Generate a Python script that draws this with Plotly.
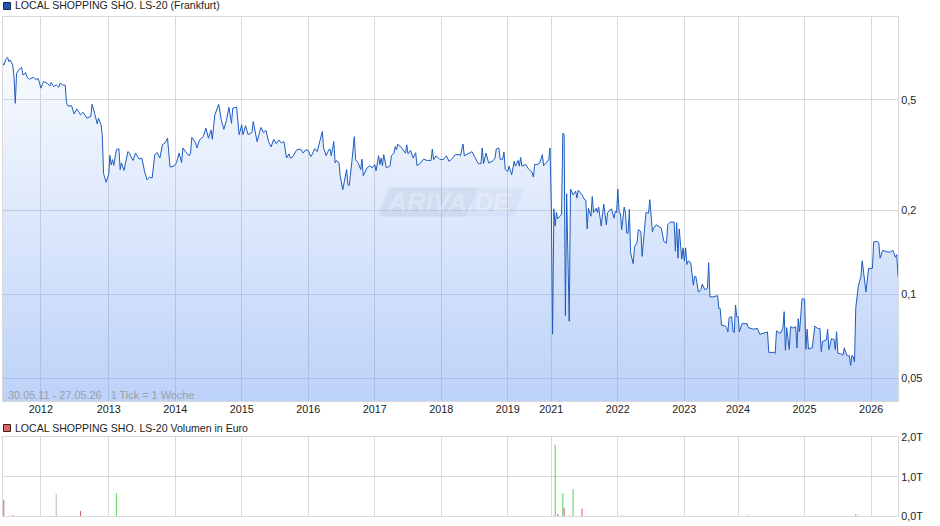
import plotly.graph_objects as go

# x values are chart ticks (1 tick = 1 week), 2020 is missing on the source axis
year_ticks = [30, 83, 135, 187, 239, 291, 343, 395, 429, 481, 533, 575, 627, 679]
year_labels = ["2012", "2013", "2014", "2015", "2016", "2017", "2018", "2019",
               "2021", "2022", "2023", "2024", "2025", "2026"]

price_ticks = [
    0, 1, 3, 4, 5, 6, 8, 9, 10, 11, 13, 15, 16, 18, 19, 21, 24, 26, 28, 30, 32, 35, 37, 38, 40, 42, 44, 45, 47, 49,
    50, 51, 54, 56, 58, 61, 63, 66, 69, 70, 72, 74, 75, 77, 78, 79, 81, 83, 84, 85, 86, 87, 89, 91, 92, 93, 95, 97,
    98, 99, 102, 104, 107, 109, 111, 113, 115, 117, 119, 121, 123, 125, 127, 129, 131, 134, 136, 138, 140, 141, 143,
    146, 147, 148, 151, 152, 154, 157, 159, 161, 163, 164, 166, 169, 171, 173, 175, 177, 179, 180, 183, 185, 187,
    188, 190, 192, 195, 196, 199, 202, 204, 206, 208, 210, 212, 214, 216, 218, 220, 222, 224, 225, 227, 230, 233,
    235, 237, 239,
    241, 242, 244, 246, 248, 250, 251, 253, 255, 256, 257, 259, 260, 261, 263, 264, 266, 267, 269, 270, 271, 273,
    275, 276, 278, 280, 281, 282, 285, 287, 289, 291, 292, 294, 295, 296, 297, 298, 300, 303, 304, 306, 307, 308,
    309, 312, 315, 316, 317, 319, 321, 323, 324, 327, 329, 332, 335, 336, 337, 339, 342, 345, 347, 349, 351, 354,
    357, 358, 360, 361, 363, 367, 369, 372, 374, 375, 376, 378, 380, 383, 385, 386, 388, 389, 391, 392, 393, 395,
    396, 398, 400, 401, 403, 404, 405, 406, 409, 411, 414, 415, 416, 418, 420, 422, 423, 425, 427, 428, 429, 430,
    431, 432, 433, 434, 437, 438, 439, 440, 441, 443, 444, 446, 448, 449, 450, 453, 455, 456, 457, 458, 460, 461,
    462, 464, 465, 466, 468, 470, 472, 473, 476, 478, 479, 480, 481, 482,
    483, 484, 486, 487, 488, 489, 490, 491, 493, 494, 496, 497, 499, 500, 502, 503, 505, 506, 508, 509, 511, 514,
    515, 517, 519, 520, 522, 525, 526, 527, 528, 529, 531, 532, 533, 534, 535, 536, 538, 540, 541, 542, 544, 546,
    547, 549, 551, 552, 553, 555, 559, 560, 561, 562, 565, 566, 567, 568, 570, 571, 572, 573, 574, 575, 576, 578,
    582, 583, 586, 587, 590, 592, 598, 599, 603, 604, 605, 608, 610, 611, 612, 613, 615, 616, 618, 620, 621, 622,
    623, 625, 627, 628, 629, 630, 633, 635, 637, 639, 640, 641, 644, 645, 646, 648, 650, 651, 652, 653, 656, 657,
    658, 660, 662, 663, 664, 665, 666, 667, 669, 671, 672, 674, 675, 677, 680, 681, 684, 685, 686, 688, 692, 694,
    696, 698, 699, 700,
]
price_values = [
    .680, .667, .705, .711, .686, .695, .667, .606, .486, .623, .644, .654, .614, .626, .606, .593, .603, .593, .596,
    .551, .582, .574, .561, .577, .558, .566, .555, .574, .566, .564,
    .489, .476, .476, .445, .464, .442, .451, .430, .436, .482, .448, .410, .430, .407, .375, .272, .253, .270, .316,
    .292, .305, .291, .331, .334, .281, .297, .279, .305,
    .326, .323, .303, .322, .306, .309, .277, .258, .264, .262, .318, .323, .309, .345, .350, .364, .287, .289, .297,
    .322, .298, .336, .326,
    .315, .322, .367, .350, .336, .359, .369, .396, .364, .390, .361, .442, .482, .424, .392, .421, .470, .412, .467,
    .471, .375, .407,
    .375, .404, .375, .382, .418, .354, .398, .382, .388, .354, .339, .361, .348, .359, .350, .354, .309, .320, .309,
    .313, .331, .333,
    .322, .331, .329,
    .313, .318, .334, .326, .354, .385, .336, .315, .331, .333, .315, .354, .297, .303, .297, .266, .238, .255, .281,
    .248, .246, .297,
    .369, .305, .297, .281, .306, .267, .285, .290, .285, .293, .278, .315, .293, .309, .290, .318, .285, .290, .315,
    .322, .340, .331,
    .347, .336, .322, .345, .320, .329, .309, .323, .290, .297, .306, .303, .303, .333, .305, .315, .305, .306, .315,
    .301, .306, .318,
    .318, .315, .347, .315, .318, .326, .313, .295, .295, .336, .295, .322, .297, .301, .309, .333, .336, .306, .306,
    .325, .281, .277,
    .289, .269, .301, .289, .303, .289, .311, .289, .293, .283, .275, .264, .293, .293, .297, .318, .290, .297, .305,
    .336, .208, .072,
    .203, .176, .197, .187, .194, .380, .375, .084, .230, .080, .239, .228, .235, .222, .237, .228, .219, .218, .172,
    .204, .191, .225,
    .197, .204, .197, .206, .176, .211, .178, .197, .203, .188, .199, .197, .239, .197,
    .196, .171, .206, .196, .166, .166, .202, .141, .129, .148, .154, .171, .168, .137, .171, .197, .196, .219, .168,
    .173, .178, .175,
    .173, .155, .153, .178, .182, .182, .143, .181, .135, .172, .134, .147, .132, .147, .128, .132, .130, .108, .116,
    .116, .102, .104,
    .109, .104, .105, .130, .098, .098, .099, .089, .089, .0775, .077, .076, .0733, .0825, .0832, .0739, .0729, .0916,
    .0832, .0832, .0733, .0785,
    .0785, .076, .0755, .075, .0755, .0719, .0733, .0619, .0619, .0614, .0739, .0725, .0755, .0867, .063, .076, .0634,
    .0766, .0757, .0766, .0643, .0818,
    .0733, .0965, .096, .0634, .075, .0637, .0643, .077, .0755, .0755, .0623, .0677, .0686, .075, .0634, .0693, .0689,
    .0634, .0735, .0615, .061, .0604,
    .0643, .0604, .0601, .0556, .0604, .0598, .0572, .0896, .107, .116, .132, .110, .102, .124, .124, .1545, .155, .153,
    .135, .144, .142, .142,
    .144, .136, .139, .116,
]
price_axis_vals = [0.05, 0.1, 0.2, 0.5]
price_axis_text = ["0,05", "0,1", "0,2", "0,5"]

volume_ticks = [1, 8, 42, 61, 89, 432, 434, 438, 439, 443, 446, 453, 485, 583, 667]
volume_values = [.41, .03, .565, .135, .59, 1.81, .06, .59, .21, .02, .69, .19, .02, .02, .06]
# alpha just under 1 keeps plotly from widening thin bars to 2-3 px
RED, GREEN, GREY = "rgba(217,102,102,0.99)", "rgba(102,208,102,0.99)", "rgba(187,187,187,0.99)"
volume_colors = [RED, RED, GREY, RED, GREEN, GREEN, RED, GREEN, RED, GREEN, GREEN, RED, GREEN, RED, GREEN]
volume_axis_vals = [0, 1, 2]
volume_axis_text = ["0,0T", "1,0T", "2,0T"]

GRID = "#d9d9d9"
W, H = 940, 526


def px_x(v):
    return v / W


def px_y(v):
    return 1 - v / H


fig = go.Figure()

fig.add_trace(go.Scatter(
    x=price_ticks,
    y=price_values,
    mode="lines",
    line=dict(color="#1f5cbf", width=1),
    fill="tozeroy",
    fillgradient=dict(
        type="vertical",
        start=0.0414,
        stop=0.71,
        colorscale=[[0, "rgba(100,150,240,0.43)"], [1, "rgba(100,150,240,0.04)"]],
    ),
    hoverinfo="skip",
    showlegend=False,
    xaxis="x",
    yaxis="y",
))

fig.add_trace(go.Bar(
    x=volume_ticks,
    y=volume_values,
    marker=dict(color=volume_colors, line_width=0),
    width=0.85,
    hoverinfo="skip",
    showlegend=False,
    xaxis="x2",
    yaxis="y2",
))

axis_font = dict(family="Liberation Sans", size=10.8, color="#222222")
shared_axis = dict(gridcolor=GRID, showline=True, linecolor=GRID, mirror=True, zeroline=False,
                   ticks="", automargin=False, tickmode="array")

fig.update_layout(
    width=W,
    height=H,
    margin=dict(l=0, r=0, t=0, b=0),
    paper_bgcolor="white",
    plot_bgcolor="white",
    xaxis=dict(
        domain=[px_x(2.5), px_x(898)],
        range=[0, 700],
        tickvals=year_ticks,
        ticktext=year_labels,
        tickfont=axis_font,
        ticklabelstandoff=-2,
        anchor="y",
        **shared_axis,
    ),
    yaxis=dict(
        domain=[px_y(401), px_y(16.5)],
        type="log",
        range=[-1.383, -0.0013],
        side="right",
        tickvals=price_axis_vals,
        ticktext=price_axis_text,
        tickfont=axis_font,
        anchor="x",
        **shared_axis,
    ),
    xaxis2=dict(
        domain=[px_x(2.5), px_x(898)],
        range=[0, 700],
        tickvals=year_ticks,
        showticklabels=False,
        anchor="y2",
        **shared_axis,
    ),
    yaxis2=dict(
        domain=[px_y(516.3), px_y(437.3)],
        range=[0, 2],
        side="right",
        tickvals=volume_axis_vals,
        ticktext=volume_axis_text,
        tickfont=axis_font,
        anchor="x2",
        **shared_axis,
    ),
)


def paper_rect(x0, y0, x1, y1, fill, line):
    fig.add_shape(type="rect", xref="paper", yref="paper",
                  x0=px_x(x0), x1=px_x(x1), y0=px_y(y0), y1=px_y(y1),
                  fillcolor=fill, line=dict(color=line, width=1))


def label(x, y, text, color="#222222", size=10.55, style="normal", anchor="left"):
    fig.add_annotation(xref="paper", yref="paper", x=px_x(x), y=px_y(y), text=text,
                       showarrow=False, xanchor=anchor, yanchor="middle",
                       font=dict(family="Liberation Sans", size=size, color=color, style=style))


def badge(points, fill):
    # slanted, slightly rounded box given as (x, y) corners in pixels
    (ax, ay), (bx, by), (cx, cy), (dx, dy) = points
    r = 3
    fig.add_shape(type="path", xref="paper", yref="paper", layer="above", line_width=0, fillcolor=fill,
                  path=f"M {px_x(ax + r)} {px_y(ay)} L {px_x(bx - r)} {px_y(by)} "
                       f"Q {px_x(bx)} {px_y(by)} {px_x(bx - 1)} {px_y(by + r)} "
                       f"L {px_x(cx + 1)} {px_y(cy - r)} Q {px_x(cx)} {px_y(cy)} {px_x(cx - r)} {px_y(cy)} "
                       f"L {px_x(dx + r)} {px_y(dy)} Q {px_x(dx)} {px_y(dy)} {px_x(dx + 1)} {px_y(dy - r)} "
                       f"L {px_x(ax - 1)} {px_y(ay + r)} Q {px_x(ax)} {px_y(ay)} {px_x(ax + r)} {px_y(ay)} Z")


# legend squares and headings
paper_rect(3.5, 2.5, 10.5, 9.5, "#1f55b5", "#1a2a4a")
paper_rect(3.5, 424.5, 10.5, 431.5, "#d96666", "#402020")
label(13, 5.5, "LOCAL SHOPPING SHO. LS-20 (Frankfurt)")
label(13, 428, "LOCAL SHOPPING SHO. LS-20 Volumen in Euro")
label(5.5, 395, "30.05.11 - 27.05.26&nbsp;&nbsp;&nbsp;1 Tick = 1 Woche", color="#9a9fa8", size=10.9)

# watermark badge
badge([(388, 187.5), (525, 187.5), (514, 216.5), (377, 216.5)], "rgba(120,140,180,0.07)")
fig.add_shape(type="path", xref="paper", yref="paper", layer="above", line_width=0,
              fillcolor="rgba(120,140,180,0.08)",
              path=f"M {px_x(390)} {px_y(187.5)} L {px_x(478)} {px_y(187.5)} "
                   f"L {px_x(466)} {px_y(216.5)} L {px_x(380)} {px_y(216.5)} Z")
label(449, 202, "<b>ARIVA.DE</b>", color="rgba(255,255,255,0.3)", size=26, style="italic", anchor="center")

fig.write_html("out.html", config=dict(displayModeBar=False),
               post_script="document.body.style.margin='0';")
